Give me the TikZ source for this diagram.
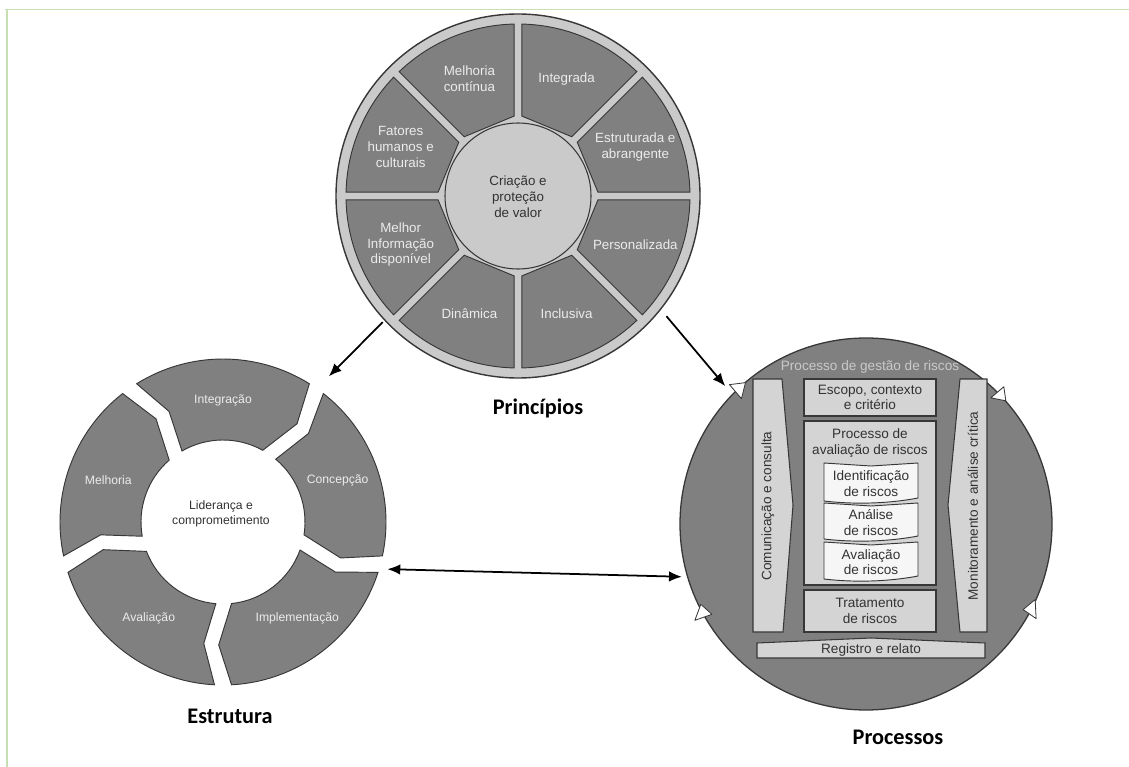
\documentclass[tikz,border=0pt]{standalone}
\usepackage{fontspec}
\setmainfont{Liberation Sans}
\newfontfamily\titlefont{Carlito}
\usetikzlibrary{arrows.meta,calc}
\definecolor{segfill}{RGB}{128,128,128}
\definecolor{ringfill}{RGB}{202,202,202}
\definecolor{edge}{RGB}{55,55,55}
\definecolor{boxfill}{RGB}{212,212,212}
\definecolor{docfill}{RGB}{246,246,246}
\definecolor{framegreen}{RGB}{198,224,180}
\definecolor{segtext}{RGB}{236,236,236}
\definecolor{darktext}{RGB}{50,50,50}
\tikzset{seg/.style={fill=segfill,draw=edge,line width=0.8pt},ring/.style={fill=ringfill,draw=edge,line width=1.2pt},pbox/.style={fill=boxfill,draw=edge,line width=0.9pt},doc/.style={fill=docfill,draw=edge,line width=0.8pt},seglab/.style={align=center,text=segtext,font=\fontsize{11.4}{13.6}\selectfont},estlab/.style={align=center,text=segtext,font=\fontsize{10.4}{12.4}\selectfont},boxlab/.style={align=center,text=darktext,inner sep=1pt,font=\fontsize{11.6}{13.2}\selectfont},ttl/.style={font=\titlefont\bfseries\fontsize{19}{22}\selectfont},flow/.style={-{Latex[length=11pt,width=9pt]},line width=1.5pt},tri/.style={fill=white,draw=edge,line width=0.7pt,line join=round}}

\begin{document}
\begin{tikzpicture}[x=0.03cm,y=0.03cm]
\fill[white] (0,0) rectangle (1129,-767);
\useasboundingbox (0,0) rectangle (1129,-767);
\draw[framegreen,line width=1.3pt] (5,-9.5) -- (1129,-9.5);
\draw[framegreen,line width=1.3pt] (7,-9.5) -- (7,-767);

% Principios
\coordinate (prin) at (518,-196);
\draw[ring] (prin) circle[radius=182];
\foreach \k in {0,...,7}{
  \pgfmathsetmacro\oa{45*\k+1.3}
  \pgfmathsetmacro\ob{45*\k+45-1.3}
  \pgfmathsetmacro\ia{45*\k+2.8}
  \pgfmathsetmacro\ib{45*\k+45-2.8}
  \draw[seg] ($(prin)+(\oa:172)$) arc[start angle=\oa,end angle=\ob,radius=172] -- ($(prin)+(\ib:80)$) -- ($(prin)+(\ia:80)$) -- cycle;
}
\draw[ring,line width=0.9pt] (prin) circle[radius=73];
\node[seglab,text=darktext] (valor) at (518,-197) {Criação e\\proteção\\de valor};
\foreach \a/\t [count=\i] in {22.5/{Estruturada e\\abrangente},67.5/{Integrada},112.5/{Melhoria\\contínua},157.5/{Fatores\\humanos e\\culturais},202.5/{Melhor\\Informação\\disponível},247.5/{Dinâmica},292.5/{Inclusiva},337.5/{Personalizada}}
  \node[seglab] (p\i) at ($(prin)+(\a:127)$) {\t};
\node[ttl] (tprin) at (538,-408) {Princípios};

% Estrutura
\coordinate (est) at (223,-522);
\foreach \a/\b/\t [count=\i] in {125/55/Integração,55/-15/Concepção,-15/-90/Implementação,-90/-165/Avaliação,195/125/Melhoria}{
  \pgfmathsetmacro\oa{\a-3}
  \pgfmathsetmacro\ob{\b+3}
  \pgfmathsetmacro\ia{\a-5}
  \pgfmathsetmacro\ib{\b+6}
  \pgfmathsetmacro\ma{\a-9}
  \pgfmathsetmacro\mb{\b-2}
  \pgfmathsetmacro\lmid{(\a+\b)/2}
  \draw[seg] ($(est)+(\oa:163)$) arc[start angle=\oa,end angle=\ob,radius=163] -- ($(est)+(\mb:123)$) -- ($(est)+(\ib:82)$) arc[start angle=\ib,end angle=\ia,radius=82] -- ($(est)+(\ma:123)$) -- cycle;
  \node[estlab] (e\i) at ($(est)+(\lmid:122)$) {\t};
}
\node[estlab,text=darktext] (lider) at (221,-514) {Liderança e\\comprometimento};
\node[ttl] (test) at (230,-716) {Estrutura};

% Processos
\coordinate (proc) at (866,-524);
\draw[fill=segfill,draw=edge,line width=1.1pt] (proc) circle[radius=186];
\node[boxlab,text=ringfill] (gest) at (870,-367) {Processo de gestão de riscos};
\draw[pbox] (753,-379) -- (782,-379) -- (793,-505) -- (783,-632) -- (753,-632) -- cycle;
\node[boxlab,rotate=90] (com) at (768,-506) {Comunicação e consulta};
\draw[pbox] (960,-379) -- (987,-379) -- (987,-632) -- (960,-632) -- (948,-505) -- cycle;
\node[boxlab,rotate=90] (mon) at (973,-506) {Monitoramento e análise crítica};
\draw[pbox] (804,-379) rectangle (936,-416);
\node[boxlab] (esc) at (870,-397.5) {Escopo, contexto\\e critério};
\draw[pbox] (804,-421) rectangle (936,-585);
\node[boxlab] (avp) at (870,-443) {Processo de\\avaliação de riscos};
\foreach \t/\b/\l [count=\i] in {463/502/{Identificação\\de riscos},503/540/{Análise\\de riscos},542/580/{Avaliação\\de riscos}}{
  \draw[doc] (824,-\t) -- (871,-\t-3) -- (918,-\t) -- (918,-\b+4) .. controls (892,-\b-1) and (858,-\b-3) .. (824,-\b+1) -- cycle;
  \node[boxlab] (d\i) at (871,{-(\t+\b)/2-1}) {\l};
}
\draw[pbox] (804,-590) rectangle (936,-632);
\node[boxlab] (trat) at (870,-611) {Tratamento\\de riscos};
\draw[pbox] (757,-643) -- (871,-638) -- (985,-643) -- (985,-658) -- (757,-658) -- cycle;
\node[boxlab] (reg) at (871,-650) {Registro e relato};
\draw[tri,shift={($(proc)+(133.3:186)$)}] (-9,4) -- (7,6) -- (3,-10) -- cycle;
\draw[tri,shift={($(proc)+(44:186)$)}] (4,8) -- (-9,-3) -- (6,-6) -- cycle;
\draw[tri,shift={($(proc)+(208.7:186)$)}] (-8,-7) -- (-2,9) -- (9,-1) -- cycle;
\draw[tri,shift={($(proc)+(-27.4:186)$)}] (4,10) -- (-8,0) -- (5,-9) -- cycle;
\node[ttl] (tproc) at (898,-737) {Processos};

% ligacoes
\draw[flow] ($(prin)+(223:185)$) -- ($(est)+(54:180)$);
\draw[flow] ($(prin)+(-39:191)$) -- ($(proc)+(135.6:197)$);
\draw[flow,{Latex[length=11pt,width=9pt]}-{Latex[length=11pt,width=9pt]}] ($(est)+(-16:171)$) -- ($(proc)+(196:191.5)$);
\end{tikzpicture}
\end{document}
